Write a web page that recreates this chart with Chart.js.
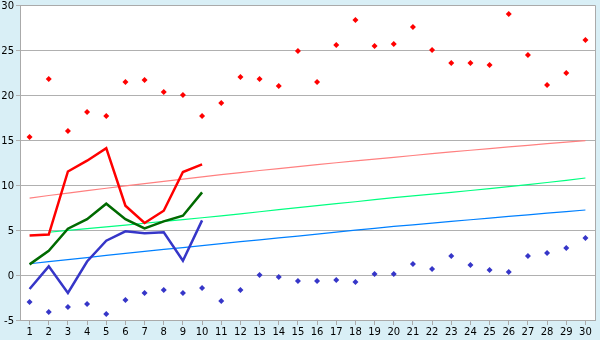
<!DOCTYPE html>
<html>
<head>
<meta charset="utf-8">
<script src="https://cdn.jsdelivr.net/npm/chart.js@4.4.0/dist/chart.umd.min.js"></script>
<style>
  html, body { margin: 0; padding: 0; background: #d9eff6; }
  #wrap { width: 600px; height: 340px; }
</style>
</head>
<body>
<div id="wrap"><canvas id="myChart" width="600" height="340"></canvas></div>
<script>
// x categories
const days = [];
for (let i = 1; i <= 30; i++) days.push(String(i));

// scattered diamonds
const redPoints = [15.33, 21.78, 16.0, 18.11, 17.67, 21.44, 21.67, 20.33, 20.0, 17.67,
  19.11, 22.0, 21.78, 21.0, 24.89, 21.44, 25.56, 28.33, 25.44, 25.67,
  27.56, 25.0, 23.56, 23.56, 23.33, 29.0, 24.44, 21.11, 22.44, 26.11];
const bluePoints = [-3.0, -4.11, -3.56, -3.22, -4.33, -2.78, -2.0, -1.67, -2.0, -1.44,
  -2.89, -1.67, 0.0, -0.22, -0.67, -0.67, -0.56, -0.78, 0.11, 0.11,
  1.22, 0.67, 2.11, 1.11, 0.56, 0.33, 2.11, 2.44, 3.0, 4.11];

// thick lines, first 10 days
const redLine = [4.4, 4.5, 11.5, 12.7, 14.1, 7.7, 5.78, 7.14, 11.44, 12.29];
const greenLine = [1.18, 2.7, 5.14, 6.2, 7.92, 6.2, 5.18, 5.96, 6.59, 9.18];
const blueLine = [-1.56, 0.96, -2.0, 1.5, 3.81, 4.85, 4.63, 4.74, 1.59, 6.07];

// thin trend lines (green one starts on day 2)
const pinkTrend = [8.55, 8.83, 9.10, 9.37, 9.64, 9.90, 10.16, 10.41, 10.66, 10.91,
  11.15, 11.38, 11.61, 11.83, 12.05, 12.26, 12.47, 12.68, 12.88, 13.08,
  13.28, 13.48, 13.67, 13.86, 14.05, 14.23, 14.41, 14.59, 14.76, 14.92];
const greenTrend = [null, 4.75, 4.95, 5.15, 5.35, 5.55, 5.75, 5.95, 6.15, 6.36,
  6.58, 6.80, 7.03, 7.26, 7.48, 7.70, 7.92, 8.14, 8.37, 8.60,
  8.80, 8.99, 9.18, 9.39, 9.60, 9.82, 10.04, 10.28, 10.52, 10.78];
const blueTrend = [1.25, 1.48, 1.71, 1.94, 2.17, 2.40, 2.62, 2.84, 3.05, 3.26,
  3.48, 3.70, 3.91, 4.12, 4.33, 4.55, 4.77, 4.98, 5.19, 5.40,
  5.57, 5.76, 5.95, 6.14, 6.33, 6.51, 6.69, 6.87, 7.05, 7.22];

const yTicks = [-5, 0, 5, 10, 15, 20, 25, 30];

/**
 * Light blue page, white plot area, grey frame on top and right
 */
const frame = {
  id: 'frame',
  beforeDraw(chart) {
    const ctx = chart.ctx;
    const a = chart.chartArea;
    ctx.save();
    ctx.fillStyle = '#d9eff6';
    ctx.fillRect(0, 0, chart.width, chart.height);
    ctx.fillStyle = '#ffffff';
    ctx.fillRect(a.left, a.top, a.right - a.left, a.bottom - a.top);
    ctx.restore();
  },
  afterDraw(chart) {
    const ctx = chart.ctx;
    const a = chart.chartArea;
    ctx.save();
    ctx.strokeStyle = '#aaaaaa';
    ctx.lineWidth = 1;
    ctx.beginPath();
    ctx.moveTo(a.left, a.top + 0.5);
    ctx.lineTo(a.right + 0.5, a.top + 0.5);
    ctx.lineTo(a.right + 0.5, a.bottom);
    ctx.stroke();
    ctx.restore();
  }
};

function lineSet (data, color, width, order) {
  return {
    data: data,
    borderColor: color,
    backgroundColor: color,
    borderWidth: width,
    pointRadius: 0,
    fill: false,
    tension: 0,
    order: order
  };
}

function dotSet (data, color) {
  return {
    data: data,
    borderColor: color,
    backgroundColor: color,
    showLine: false,
    pointStyle: 'rectRot',
    pointRadius: 3,
    pointBorderWidth: 0,
    order: 0
  };
}

const data = {
  labels: days,
  datasets: [
    dotSet(redPoints, '#ff0000'),
    dotSet(bluePoints, '#3636c8'),
    lineSet(redLine, '#ff0000', 2.5, 1),
    lineSet(greenLine, '#006a00', 2.5, 1),
    lineSet(blueLine, '#3636c8', 2.5, 1),
    lineSet(pinkTrend, '#ff8080', 1.2, 5),
    lineSet(greenTrend, '#00ff80', 1.2, 5),
    lineSet(blueTrend, '#0080ff', 1.2, 5)
  ]
};

const config = {
  type: 'line',
  data: data,
  plugins: [frame],
  options: {
    responsive: false,
    animation: false,
    layout: { padding: { top: 5, right: 5, left: 0, bottom: 0 } },
    plugins: {
      legend: { display: false },
      tooltip: { enabled: false }
    },
    scales: {
      x: {
        offset: true,
        grid: { drawOnChartArea: false, drawTicks: true, tickLength: 5, color: '#aaaaaa', offset: false },
        border: { color: '#aaaaaa' },
        ticks: {
          color: '#000000',
          font: { family: 'DejaVu Sans', size: 10 },
          padding: 1,
          maxRotation: 0,
          autoSkip: false
        },
        afterFit(scale) { scale.height = 20; }
      },
      y: {
        min: -5,
        max: 30,
        afterBuildTicks(scale) { scale.ticks = yTicks.map(v => ({ value: v })); },
        grid: { color: '#b0b0b0', tickLength: 4 },
        border: { color: '#aaaaaa' },
        ticks: {
          color: '#000000',
          font: { family: 'DejaVu Sans', size: 10 },
          padding: 2,
          labelOffset: 1
        },
        afterFit(scale) {
          scale.width = 20;
          scale.paddingTop = 0;
          scale.paddingBottom = 0;
        }
      }
    }
  }
};

const myChart = new Chart(document.getElementById('myChart'), config);
</script>
</body>
</html>
